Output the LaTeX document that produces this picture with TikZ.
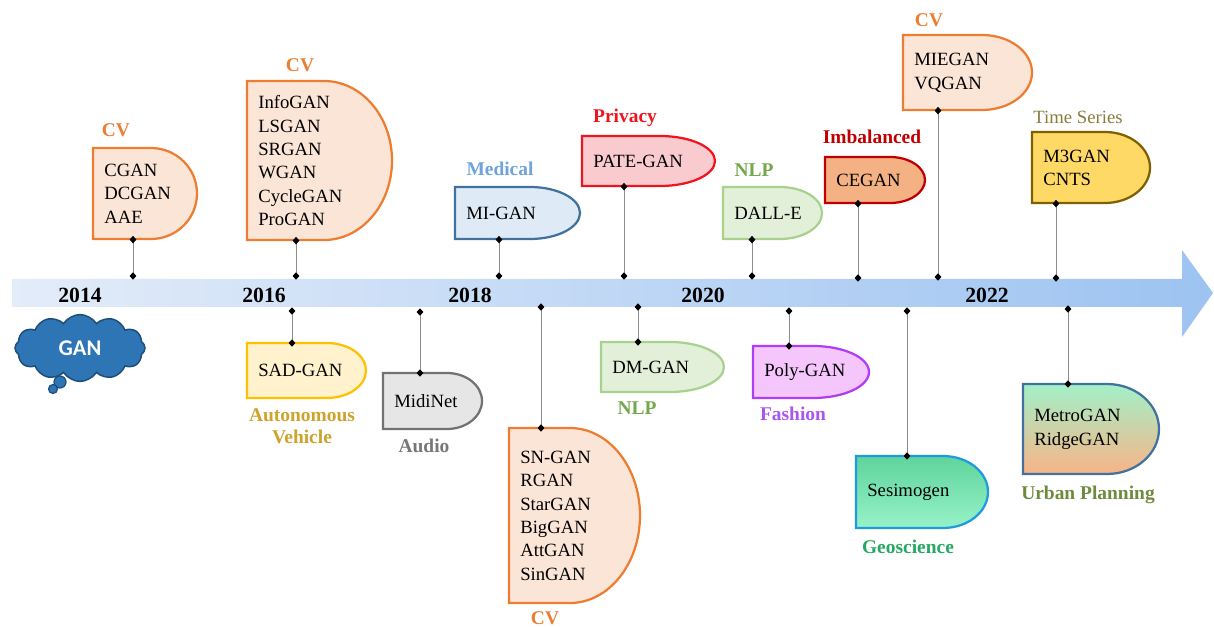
\documentclass[tikz,border=0pt]{standalone}
\usepackage{fontspec}
\setmainfont{Liberation Serif}
\newfontfamily\ganfont{Carlito}
\usetikzlibrary{arrows.meta,shapes.symbols}

% colours of the application areas
\definecolor{bandL}{HTML}{E3ECF9}
\definecolor{bandR}{HTML}{9DC3F1}
\definecolor{cvfill}{HTML}{FBE5D6}
\definecolor{cvline}{HTML}{ED7D31}
\definecolor{medfill}{HTML}{DEEBF7}
\definecolor{medline}{HTML}{41719C}
\definecolor{medtext}{HTML}{6FA3DC}
\definecolor{privfill}{HTML}{F9CBCF}
\definecolor{privline}{HTML}{F0141E}
\definecolor{nlpfill}{HTML}{E2F0D9}
\definecolor{nlpline}{HTML}{A9D18E}
\definecolor{nlptext}{HTML}{72A84A}
\definecolor{imbfill}{HTML}{F4B183}
\definecolor{imbline}{HTML}{C00000}
\definecolor{tsfill}{HTML}{FFD966}
\definecolor{tsline}{HTML}{7F6000}
\definecolor{tstext}{HTML}{8B7B3C}
\definecolor{carfill}{HTML}{FFF2CC}
\definecolor{carline}{HTML}{FFC000}
\definecolor{cartext}{HTML}{CDA32C}
\definecolor{audiofill}{HTML}{E7E6E6}
\definecolor{audioline}{HTML}{767171}
\definecolor{audiotext}{HTML}{777777}
\definecolor{fashfill}{HTML}{F5C6FC}
\definecolor{fashline}{HTML}{B03CF5}
\definecolor{fashtext}{HTML}{A955F0}
\definecolor{geotop}{HTML}{5FD49C}
\definecolor{geobot}{HTML}{96F2C8}
\definecolor{geoline}{HTML}{1E9BE0}
\definecolor{geotext}{HTML}{25A862}
\definecolor{urbtop}{HTML}{A2F0C8}
\definecolor{urbbot}{HTML}{F8B487}
\definecolor{urbtext}{HTML}{6E8B3D}
\definecolor{ganblue}{HTML}{2E75B6}
\definecolor{gandark}{HTML}{1F4E79}

% one pixel of the layout
\newcommand{\pxu}{0.0235cm}

% D-shaped box: name, style, left, top, right, bottom, round, list
\newcommand{\ganbox}[8]{%
  \draw[#2] (#3,#4) -- ({#5-#7},#4)
    arc[start angle=90, end angle=-90, x radius={#7*\pxu}, y radius={(#6-#4)/2*\pxu}]
    -- (#3,#6) -- cycle;
  \node[names, anchor=north west, minimum height={(#6-#4)*\pxu},
    text width={(#5-#3-22)*\pxu}] (#1) at (#3,#4) {#8};
}

\tikzset{
  names/.style={inner xsep=11*\pxu, inner ysep=0pt, align=left,
    font=\fontsize{12.5}{15.6}\selectfont},
  lab/.style={inner sep=0pt, align=center, font=\bfseries\fontsize{13}{14.7}\selectfont},
  year/.style={inner sep=0pt, font=\bfseries\fontsize{14.5}{16}\selectfont},
  stem/.style={draw=black!45, line width=0.6pt,
    {Diamond[length=5pt,width=4.5pt,color=black]}-{Diamond[length=5pt,width=4.5pt,color=black]},
    shorten <=-2.5pt, shorten >=-2.5pt},
  frame/.style={line width=1.5pt},
  cvbox/.style={frame, fill=cvfill, draw=cvline},
  medbox/.style={frame, fill=medfill, draw=medline},
  privbox/.style={frame, fill=privfill, draw=privline},
  nlpbox/.style={frame, fill=nlpfill, draw=nlpline},
  imbbox/.style={frame, fill=imbfill, draw=imbline},
  tsbox/.style={frame, fill=tsfill, draw=tsline},
  carbox/.style={frame, fill=carfill, draw=carline},
  audiobox/.style={frame, fill=audiofill, draw=audioline},
  fashbox/.style={frame, fill=fashfill, draw=fashline},
  geobox/.style={frame, top color=geotop, bottom color=geobot, draw=geoline},
  urbanbox/.style={frame, top color=urbtop, bottom color=urbbot, draw=medline}
}

\begin{document}
\begin{tikzpicture}[x=\pxu, y=-\pxu]
\useasboundingbox (0,0) rectangle (1214,627);

% time axis
\shade[left color=bandL, right color=bandR] (12,279) -- (1182,279) -- (1182,250)
  -- (1213,293) -- (1182,337) -- (1182,307) -- (12,307) -- cycle;

% GAN
\fill[ganblue, draw=gandark, line width=0.8pt] (60,382) circle[radius=6*\pxu];
\fill[ganblue, draw=gandark, line width=0.8pt] (53,389) circle[radius=4.5*\pxu];
\node[cloud, cloud puffs=12, cloud puff arc=115, fill=ganblue, draw=gandark, line width=1pt,
  minimum width=130*\pxu, minimum height=66*\pxu, inner sep=0pt, text=white,
  font=\ganfont\bfseries\fontsize{15}{18}\selectfont] (gan) at (80,348) {GAN};

% above the axis
\ganbox{cgan}{cvbox}{93}{148}{197}{239}{46}{CGAN\\DCGAN\\AAE}
\ganbox{infogan}{cvbox}{247}{81}{392}{240}{68}{InfoGAN\\LSGAN\\SRGAN\\WGAN\\CycleGAN\\ProGAN}
\ganbox{migan}{medbox}{455}{187}{580}{239}{50}{MI-GAN}
\ganbox{pategan}{privbox}{582}{136}{715}{186}{55}{PATE-GAN}
\ganbox{dalle}{nlpbox}{723}{187}{822}{239}{42}{DALL-E}
\ganbox{cegan}{imbbox}{825}{157}{925}{203}{35}{CEGAN}
\ganbox{miegan}{cvbox}{903}{35}{1032}{110}{50}{MIEGAN\\VQGAN}
\ganbox{mgan}{tsbox}{1032}{132}{1150}{203}{45}{M3GAN\\CNTS}

% below the axis
\ganbox{sadgan}{carbox}{247}{343}{366}{398}{39}{SAD-GAN}
\ganbox{midinet}{audiobox}{383}{373}{482}{429}{35}{MidiNet}
\ganbox{sngan}{cvbox}{509}{428}{640}{603}{70}{SN-GAN\\RGAN\\StarGAN\\BigGAN\\AttGAN\\SinGAN}
\ganbox{dmgan}{nlpbox}{601}{342}{724}{392}{54}{DM-GAN}
\ganbox{polygan}{fashbox}{753}{346}{869}{398}{56}{Poly-GAN}
\ganbox{sesimogen}{geobox}{856}{456}{988}{528}{45}{Sesimogen}
\ganbox{metrogan}{urbanbox}{1023}{384}{1159}{474}{52}{MetroGAN\\RidgeGAN}

% stems
\foreach \b/\x/\y in {cgan/133/276, infogan/296/276, migan/499/276, pategan/624/276,
  dalle/752/276, cegan/858/278, miegan/938/277, mgan/1056/278}{
  \coordinate (\b-t) at (\x,\y);
  \draw[stem] (\b.south -| \b-t) -- (\b-t);
}
\foreach \b/\x/\y in {sadgan/292/311, midinet/420/312, sngan/541/307, dmgan/638/307,
  polygan/789/311, sesimogen/907/311, metrogan/1068/309}{
  \coordinate (\b-t) at (\x,\y);
  \draw[stem] (\b-t) -- (\b.north -| \b-t);
}

% years
\node[year] (y14) at (80,295) {2014};
\node[year] (y16) at (264,295) {2016};
\node[year] (y18) at (470,295) {2018};
\node[year] (y20) at (703,295) {2020};
\node[year] (y22) at (987,295) {2022};

% areas
\node[lab, text=cvline] (cvA) at (116,130) {CV};
\node[lab, text=cvline] (cvB) at (300,65) {CV};
\node[lab, text=medtext] (medical) at (500,169) {Medical};
\node[lab, text=privline] (privacy) at (625,118) {Privacy};
\node[lab, text=nlptext] (nlpA) at (754,170) {NLP};
\node[lab, text=imbline] (imbalanced) at (872,137) {Imbalanced};
\node[lab, text=cvline] (cvC) at (929,20) {CV};
\node[lab, text=tstext, font=\fontsize{12.5}{15}\selectfont] (timeseries) at (1078,117) {Time Series};
\node[lab, text=cartext] (vehicle) at (302,426) {Autonomous\\Vehicle};
\node[lab, text=audiotext] (audio) at (424,446) {Audio};
\node[lab, text=cvline] (cvD) at (545,618) {CV};
\node[lab, text=nlptext] (nlpB) at (637,408) {NLP};
\node[lab, text=fashtext] (fashion) at (793,414) {Fashion};
\node[lab, text=geotext] (geoscience) at (908,547) {Geoscience};
\node[lab, text=urbtext] (urban) at (1088,495) {Urban Planning};

\end{tikzpicture}
\end{document}
